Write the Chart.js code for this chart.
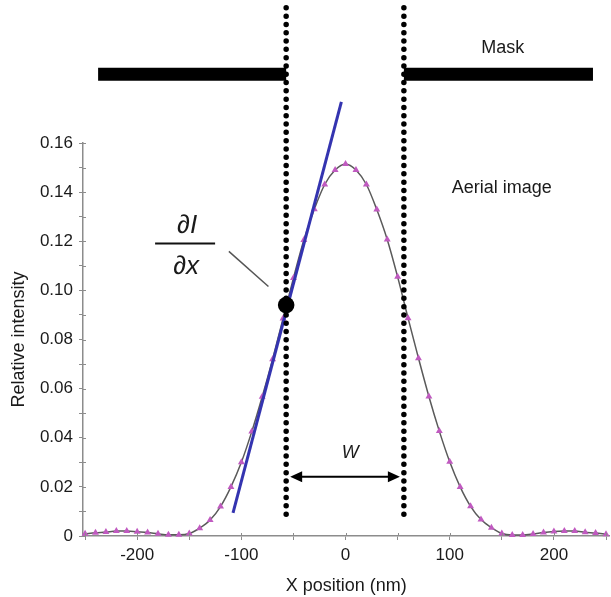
<!DOCTYPE html>
<html>
<head>
<meta charset="utf-8">
<script src="https://cdn.jsdelivr.net/npm/chart.js@4.4.0/dist/chart.umd.min.js"></script>
<style>
	html, body { margin: 0; padding: 0; background: #fff; }
	#wrap { width: 611px; height: 597px; }
</style>
</head>
<body>
<div id="wrap"><canvas id="chart"></canvas></div>
<script>
// aerial image profile, one sample every 10 nm
const positions = [
	-250, -240, -230, -220, -210, -200, -190, -180, -170, -160,
	-150, -140, -130, -120, -110, -100, -90, -80, -70, -60,
	-50, -40, -30, -20, -10, 0, 10, 20, 30, 40,
	50, 60, 70, 80, 90, 100, 110, 120, 130, 140,
	150, 160, 170, 180, 190, 200, 210, 220, 230, 240, 250
];
const intensity = [
	0.0009, 0.0013, 0.0016, 0.0020, 0.0020, 0.0017, 0.0014, 0.0009, 0.0005, 0.0005,
	0.0010, 0.0032, 0.0065, 0.0120, 0.0200, 0.0300, 0.0425, 0.0567, 0.0720, 0.0885,
	0.1050, 0.1205, 0.1330, 0.1431, 0.1490, 0.1515, 0.1490, 0.1431, 0.1329, 0.1207,
	0.1055, 0.0887, 0.0724, 0.0568, 0.0427, 0.0302, 0.0200, 0.0121, 0.0067, 0.0034,
	0.0010, 0.0004, 0.0004, 0.0008, 0.0014, 0.0018, 0.0020, 0.0020, 0.0015, 0.0012, 0.0007
];

// tangent (dI/dx) at the left mask edge
const tangentX = [-108, -4];
const tangentY = [0.0094, 0.1767];
const edgePoint = { x: -57, y: 0.094 };

// mask edges and opaque parts
const maskEdges = [-57, 56];
const maskOuter = [-237.5, 237.5];
const maskLevel = 0.188;
const edgeLineY = [0.0089, 0.2154];

const xTickValues = [-250, -200, -150, -100, -50, 0, 50, 100, 150, 200, 250];
const xTickLabels = ['', '-200', '', '-100', '', '0', '', '100', '', '200', ''];
const yTickValues = [0, 0.01, 0.02, 0.03, 0.04, 0.05, 0.06, 0.07, 0.08, 0.09, 0.10, 0.11, 0.12, 0.13, 0.14, 0.15, 0.16];
const yTickLabels = ['0', '', '0.02', '', '0.04', '', '0.06', '', '0.08', '', '0.10', '', '0.12', '', '0.14', '', '0.16'];

const FONT = "'Liberation Sans', Arial, sans-serif";
const AXIS = '#8c8c8c';

const pts = (xs, ys) => xs.map((v, i) => ({ x: v, y: ys[i] }));

const overlay = {
	id: 'overlay',
	afterDatasetsDraw(chart) {
		const { ctx, scales: { x, y } } = chart;
		ctx.save();

		// inner halves of the tick marks
		ctx.strokeStyle = AXIS;
		ctx.lineWidth = 1;
		ctx.beginPath();
		xTickValues.forEach(v => {
			const px = Math.round(x.getPixelForValue(v)) + 0.5;
			ctx.moveTo(px, y.bottom);
			ctx.lineTo(px, y.bottom - 3);
		});
		yTickValues.forEach(v => {
			const py = Math.round(y.getPixelForValue(v)) + 0.5;
			ctx.moveTo(x.left, py);
			ctx.lineTo(x.left + 3, py);
		});
		ctx.stroke();

		ctx.fillStyle = '#1a1a1a';
		ctx.textAlign = 'center';
		ctx.textBaseline = 'middle';
		ctx.font = '18px ' + FONT;
		ctx.fillText('Mask', x.getPixelForValue(151), y.getPixelForValue(0.1987));
		ctx.fillText('Aerial image', x.getPixelForValue(150), y.getPixelForValue(0.1415));

		// dI/dx label
		const fx = x.getPixelForValue(-154);
		ctx.font = 'italic 26px ' + FONT;
		ctx.fillText('\u2202I', fx + 2, y.getPixelForValue(0.1262));
		ctx.fillText('\u2202x', fx + 1, y.getPixelForValue(0.1096));
		ctx.strokeStyle = '#111';
		ctx.lineWidth = 2;
		ctx.beginPath();
		const by = y.getPixelForValue(0.1191);
		ctx.moveTo(fx - 30, by);
		ctx.lineTo(fx + 30, by);
		ctx.stroke();

		// leader to the edge point
		ctx.strokeStyle = '#555';
		ctx.lineWidth = 1.5;
		ctx.beginPath();
		ctx.moveTo(x.getPixelForValue(-112), y.getPixelForValue(0.1159));
		ctx.lineTo(x.getPixelForValue(-74), y.getPixelForValue(0.1016));
		ctx.stroke();

		// width arrow
		const ay = y.getPixelForValue(0.0241);
		const a0 = x.getPixelForValue(maskEdges[0]) + 4;
		const a1 = x.getPixelForValue(maskEdges[1]) - 4;
		ctx.strokeStyle = '#000';
		ctx.fillStyle = '#000';
		ctx.lineWidth = 2;
		ctx.beginPath();
		ctx.moveTo(a0 + 8, ay);
		ctx.lineTo(a1 - 8, ay);
		ctx.stroke();
		ctx.beginPath();
		ctx.moveTo(a0, ay); ctx.lineTo(a0 + 12, ay - 5.5); ctx.lineTo(a0 + 12, ay + 5.5); ctx.closePath();
		ctx.moveTo(a1, ay); ctx.lineTo(a1 - 12, ay - 5.5); ctx.lineTo(a1 - 12, ay + 5.5); ctx.closePath();
		ctx.fill();

		ctx.fillStyle = '#1a1a1a';
		ctx.font = 'italic 18px ' + FONT;
		ctx.fillText('W', x.getPixelForValue(4.5), y.getPixelForValue(0.0338));

		ctx.restore();
	}
};

const ctx = document.getElementById('chart');

new Chart(ctx, {
	type: 'line',
	data: {
		datasets: [
			{
				label: 'edge',
				data: [edgePoint],
				showLine: false,
				pointRadius: 8.3,
				pointBackgroundColor: '#000',
				pointBorderWidth: 0,
				order: 0
			},
			{
				label: 'mask left',
				data: pts([maskOuter[0], maskEdges[0]], [maskLevel, maskLevel]),
				borderColor: '#000',
				borderWidth: 13,
				borderCapStyle: 'butt',
				pointRadius: 0,
				clip: false,
				order: 1
			},
			{
				label: 'mask right',
				data: pts([maskEdges[1], maskOuter[1]], [maskLevel, maskLevel]),
				borderColor: '#000',
				borderWidth: 13,
				borderCapStyle: 'butt',
				pointRadius: 0,
				clip: false,
				order: 1
			},
			{
				label: 'edge left',
				data: pts([maskEdges[0], maskEdges[0]], edgeLineY),
				borderColor: '#000',
				borderWidth: 5.5,
				borderDash: [0, 8.3],
				borderCapStyle: 'round',
				pointRadius: 0,
				clip: false,
				order: 2
			},
			{
				label: 'edge right',
				data: pts([maskEdges[1], maskEdges[1]], edgeLineY),
				borderColor: '#000',
				borderWidth: 5.5,
				borderDash: [0, 8.3],
				borderCapStyle: 'round',
				pointRadius: 0,
				clip: false,
				order: 2
			},
			{
				label: 'tangent',
				data: pts(tangentX, tangentY),
				borderColor: '#3434b0',
				borderWidth: 3,
				pointRadius: 0,
				clip: false,
				order: 3
			},
			{
				label: 'Aerial image',
				data: pts(positions, intensity),
				borderColor: '#5a5a5a',
				borderWidth: 1.5,
				cubicInterpolationMode: 'monotone',
				pointStyle: 'triangle',
				pointRadius: 4,
				pointBackgroundColor: '#c05ac0',
				pointBorderColor: '#c05ac0',
				pointBorderWidth: 0,
				clip: false,
				order: 4
			}
		]
	},
	options: {
		responsive: true,
		maintainAspectRatio: false,
		animation: false,
		layout: { autoPadding: false, padding: { top: 143, right: 0, left: 0, bottom: 0 } },
		plugins: {
			legend: { display: false },
			tooltip: { enabled: false }
		},
		scales: {
			x: {
				type: 'linear',
				min: -252,
				max: 253.5,
				afterBuildTicks: s => { s.ticks = xTickValues.map(v => ({ value: v })); },
				afterFit: s => { s.height = 61; },
				grid: { drawOnChartArea: false, color: AXIS, tickLength: 4 },
				border: { color: AXIS, width: 1.5 },
				ticks: {
					autoSkip: false,
					maxRotation: 0,
					padding: 5,
					color: '#1a1a1a',
					font: { family: FONT, size: 17 },
					callback: (v, i) => xTickLabels[i]
				},
				title: {
					display: true,
					text: 'X position (nm)',
					color: '#1a1a1a',
					font: { family: FONT, size: 18 },
					padding: { top: 3, bottom: 0 }
				}
			},
			y: {
				type: 'linear',
				min: 0,
				max: 0.16,
				afterBuildTicks: s => { s.ticks = yTickValues.map(v => ({ value: v })); },
				afterFit: s => { s.width = 83; },
				grid: { drawOnChartArea: false, color: AXIS, tickLength: 4 },
				border: { color: AXIS, width: 1.5 },
				ticks: {
					autoSkip: false,
					padding: 6,
					color: '#1a1a1a',
					font: { family: FONT, size: 17 },
					callback: (v, i) => yTickLabels[i]
				},
				title: {
					display: true,
					text: 'Relative intensity',
					color: '#1a1a1a',
					font: { family: FONT, size: 18 },
					padding: { top: 8, bottom: 0 }
				}
			}
		}
	},
	plugins: [overlay]
});
</script>
</body>
</html>
